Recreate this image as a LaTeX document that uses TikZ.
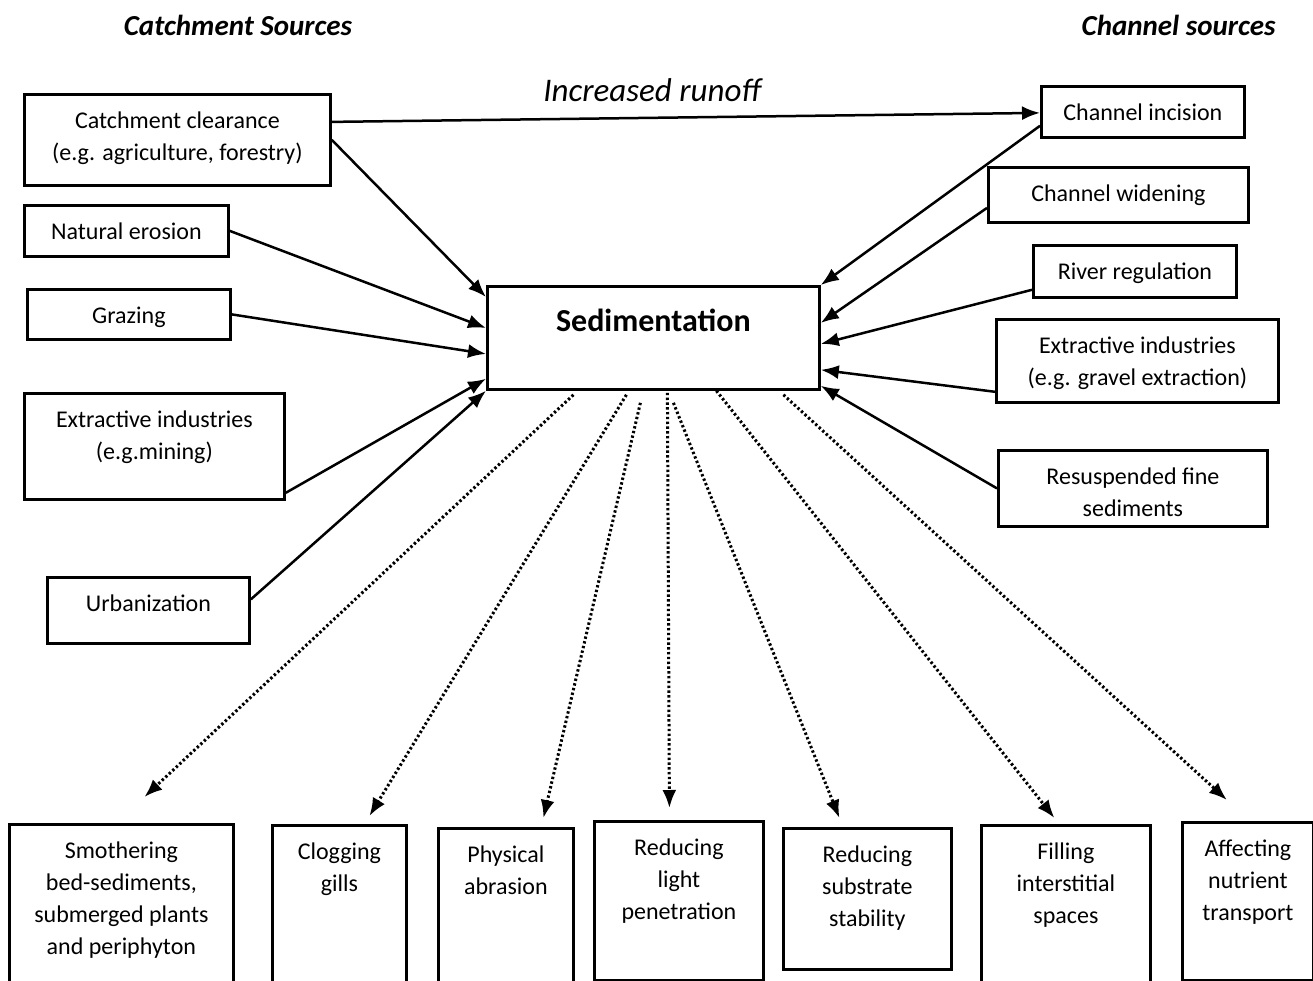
\documentclass[tikz,border=0pt]{standalone}
\usepackage{fontspec}
\setmainfont{Carlito}
\usetikzlibrary{arrows.meta,positioning}

\begin{document}
\begin{tikzpicture}[x=1pt,y=-1pt]
	\tikzstyle{Box}		= [draw, line width=2.8pt, rectangle, anchor=north west, inner sep=0pt]
	\tikzstyle{Txt}		= [anchor=north, yshift=-19pt, align=center, inner sep=0pt, font=\fontsize{24}{32}\selectfont]
	\tikzstyle{Head}	= [font=\fontsize{29}{34}\selectfont\bfseries\itshape]
	\tikzstyle{Cause}	= [line width=2.5pt, -{Latex[length=18pt,width=14pt]}]
	\tikzstyle{Effect}	= [line width=3pt, dash pattern=on 2.4pt off 2.4pt, -{Latex[length=18pt,width=14pt]}]

	\useasboundingbox (0,0) rectangle (1313,981);

	\node (hdC) at (238,25) [Head] {Catchment Sources};
	\node (hdR) at (1279,25) [Head, anchor=east] {Channel sources};
	\node (runoff) at (652,90) [font=\fontsize{33}{38}\selectfont\itshape] {Increased runoff};

	% the central box
	\node (sed) at (486,285) [Box, minimum width=332pt, minimum height=103pt,
		label={[Txt, yshift=-5pt, font=\fontsize{32}{38}\selectfont\bfseries]north:Sedimentation}] {};

	% sources and effects
	\foreach \n/\x/\y/\bw/\bh/\txt in {cc/23/93/306/91/{Catchment clearance\\(e.g. agriculture, forestry)},
			ne/23/204/204/51/{Natural erosion}, gz/26/288/203/50/{Grazing},
			em/23/392/260/106/{Extractive industries\\(e.g.mining)}, ur/46/576/202/66/{Urbanization},
			ci/1040/85/203/51/{Channel incision}, cw/987/166/260/55/{Channel widening},
			rr/1032/244/203/52/{River regulation},
			eg/995/318/282/83/{Extractive industries\\(e.g. gravel extraction)},
			rs/997/449/269/76/{Resuspended fine\\sediments},
			sm/8/823/224/170/{Smothering\\bed-sediments,\\submerged plants\\and periphyton},
			cg/271/824/134/170/{Clogging\\gills}, ph/437/827/135/165/{Physical\\abrasion},
			rl/593/820/169/159/{Reducing\\light\\penetration}, rsb/782/827/168/141/{Reducing\\substrate\\stability},
			fi/980/824/169/170/{Filling\\interstitial\\spaces}, af/1181/821/131/158/{Affecting\\nutrient\\transport}}
		\node (\n) at (\x,\y) [Box, minimum width=\bw pt, minimum height=\bh pt, label={[Txt]north:\txt}] {};

	\draw[Cause] ([yshift=18pt]cc.east) -- ([yshift=-1pt]ci.west);
	\draw[Cause] (cc.east) -- ([yshift=-12pt]sed.north west);
	\draw[Cause] (ne.east) -- ([yshift=-43pt]sed.north west);
	\draw[Cause] (gz.east) -- ([yshift=-16pt]sed.west);
	\draw[Cause] ([yshift=8pt]em.south east) -- ([yshift=12pt]sed.south west);
	\draw[Cause] ([yshift=11pt]ur.east) -- (sed.south west);
	\draw[Cause] ([yshift=13pt]ci.south west) -- (sed.north east);
	\draw[Cause] ([yshift=-13pt]cw.west) -- ([yshift=15pt]sed.east);
	\draw[Cause] ([yshift=9pt]rr.south west) -- ([yshift=-6pt]sed.east);
	\draw[Cause] ([yshift=12pt]eg.south west) -- ([yshift=21pt]sed.south east);
	\draw[Cause] (rs.west) -- ([yshift=5pt]sed.south east);

	\foreach \n/\sx/\sy/\tx/\ty in {sm/-80/-4/23/26, cg/-27/-4/30/8, ph/-13/-12/37.5/9, rl/14/-2/-9.5/12,
			rsb/20/-12/-28/9, fi/63/0/-11.5/6, af/130/-4/-21/21}
		\draw[Effect] ([shift={(\sx pt,\sy pt)}]sed.south) -- ([shift={(\tx pt,\ty pt)}]\n.north);
\end{tikzpicture}
\end{document}
